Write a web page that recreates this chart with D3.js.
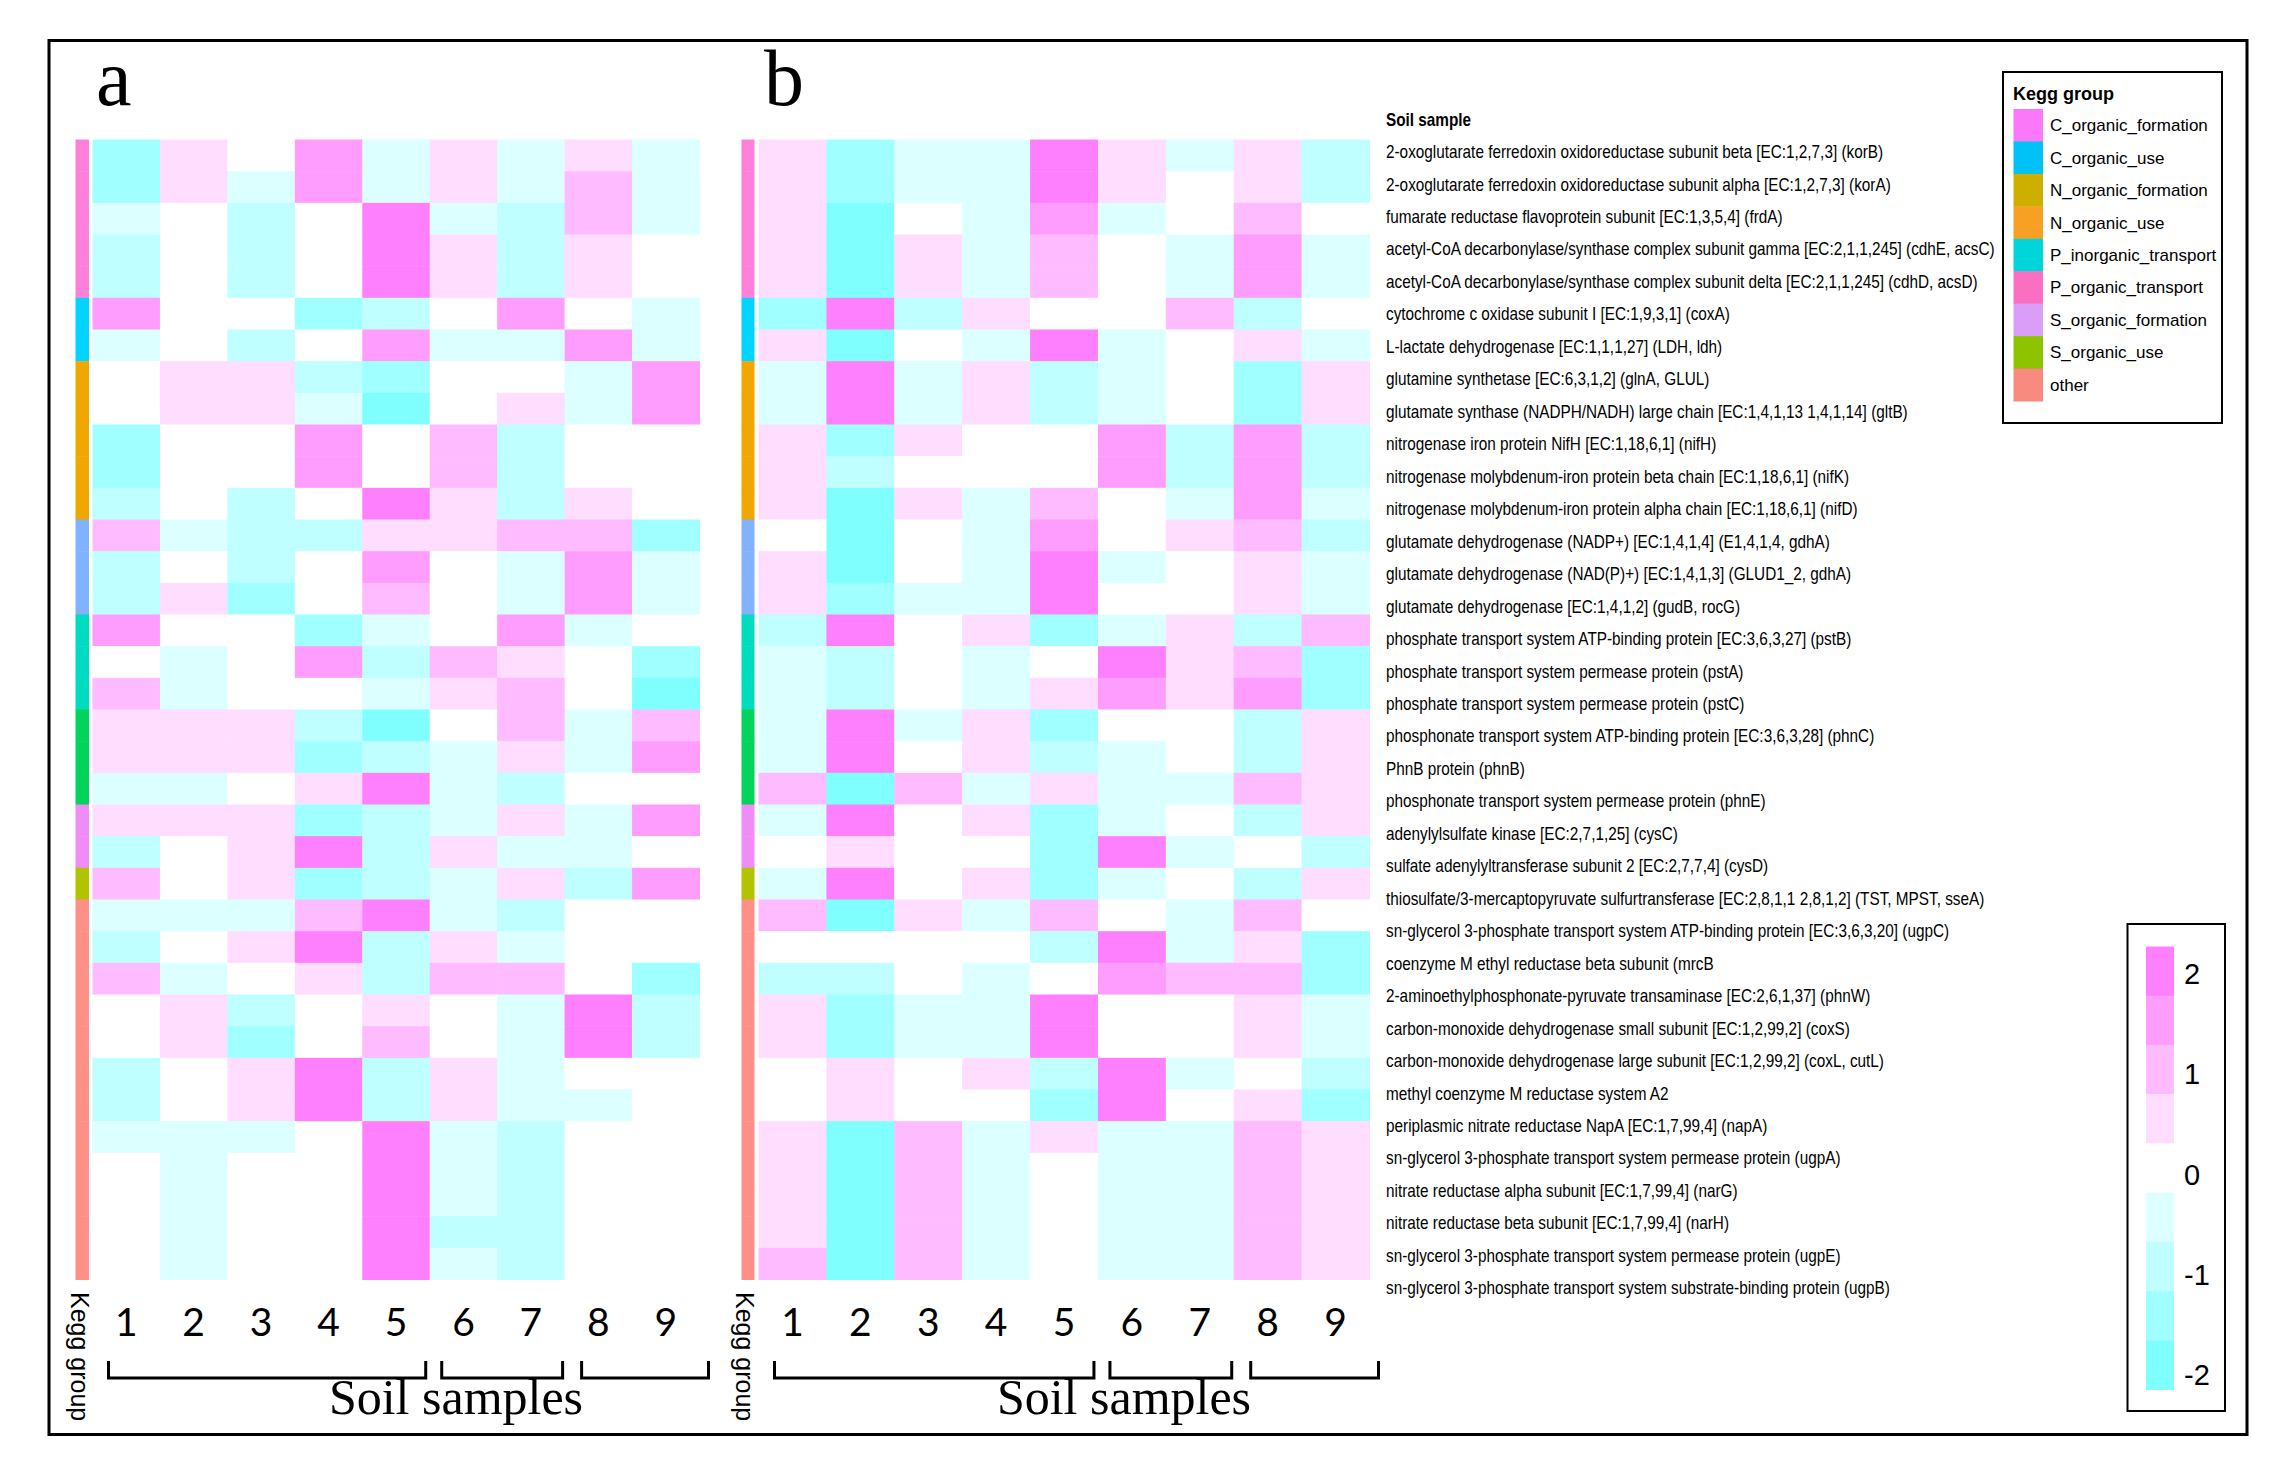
<!DOCTYPE html>
<html>
<head>
<meta charset="utf-8">
<script src="https://cdn.jsdelivr.net/npm/d3@7"></script>
<style>
  body { margin: 0; background: #fff; }
  svg { display: block; }
</style>
</head>
<body>
<svg id="chart" width="2283" height="1480"></svg>
<script>
// soil samples (columns)
const samples = ['1', '2', '3', '4', '5', '6', '7', '8', '9'];

// genes (rows), top to bottom
const genes = [
  '2-oxoglutarate ferredoxin oxidoreductase subunit beta [EC:1,2,7,3] (korB)',
  '2-oxoglutarate ferredoxin oxidoreductase subunit alpha [EC:1,2,7,3] (korA)',
  'fumarate reductase flavoprotein subunit [EC:1,3,5,4] (frdA)',
  'acetyl-CoA decarbonylase/synthase complex subunit gamma [EC:2,1,1,245] (cdhE, acsC)',
  'acetyl-CoA decarbonylase/synthase complex subunit delta [EC:2,1,1,245] (cdhD, acsD)',
  'cytochrome c oxidase subunit I [EC:1,9,3,1] (coxA)',
  'L-lactate dehydrogenase [EC:1,1,1,27] (LDH, ldh)',
  'glutamine synthetase [EC:6,3,1,2] (glnA, GLUL)',
  'glutamate synthase (NADPH/NADH) large chain [EC:1,4,1,13 1,4,1,14] (gltB)',
  'nitrogenase iron protein NifH [EC:1,18,6,1] (nifH)',
  'nitrogenase molybdenum-iron protein beta chain [EC:1,18,6,1] (nifK)',
  'nitrogenase molybdenum-iron protein alpha chain [EC:1,18,6,1] (nifD)',
  'glutamate dehydrogenase (NADP+) [EC:1,4,1,4] (E1,4,1,4, gdhA)',
  'glutamate dehydrogenase (NAD(P)+) [EC:1,4,1,3] (GLUD1_2, gdhA)',
  'glutamate dehydrogenase [EC:1,4,1,2] (gudB, rocG)',
  'phosphate transport system ATP-binding protein [EC:3,6,3,27] (pstB)',
  'phosphate transport system permease protein (pstA)',
  'phosphate transport system permease protein (pstC)',
  'phosphonate transport system ATP-binding protein [EC:3,6,3,28] (phnC)',
  'PhnB protein (phnB)',
  'phosphonate transport system permease protein (phnE)',
  'adenylylsulfate kinase [EC:2,7,1,25] (cysC)',
  'sulfate adenylyltransferase subunit 2 [EC:2,7,7,4] (cysD)',
  'thiosulfate/3-mercaptopyruvate sulfurtransferase [EC:2,8,1,1 2,8,1,2] (TST, MPST, sseA)',
  'sn-glycerol 3-phosphate transport system ATP-binding protein [EC:3,6,3,20] (ugpC)',
  'coenzyme M ethyl reductase beta subunit (mrcB',
  '2-aminoethylphosphonate-pyruvate transaminase [EC:2,6,1,37] (phnW)',
  'carbon-monoxide dehydrogenase small subunit [EC:1,2,99,2] (coxS)',
  'carbon-monoxide dehydrogenase large subunit [EC:1,2,99,2] (coxL, cutL)',
  'methyl coenzyme M reductase system A2',
  'periplasmic nitrate reductase NapA [EC:1,7,99,4] (napA)',
  'sn-glycerol 3-phosphate transport system permease protein (ugpA)',
  'nitrate reductase alpha subunit [EC:1,7,99,4] (narG)',
  'nitrate reductase beta subunit [EC:1,7,99,4] (narH)',
  'sn-glycerol 3-phosphate transport system permease protein (ugpE)',
  'sn-glycerol 3-phosphate transport system substrate-binding protein (ugpB)'
];

// Kegg groups
const keggGroups = ['C_organic_formation', 'C_organic_use', 'N_organic_formation', 'N_organic_use',
  'P_inorganic_transport', 'P_organic_transport', 'S_organic_formation', 'S_organic_use', 'other'];
const keggLegendColors = ['#FB78F8', '#00C2F6', '#CDAF00', '#F7A024', '#00D6DA', '#FB6FC2', '#DA9DF8', '#8EC300', '#F98A80'];
// the side bars of the heatmaps were coloured differently from the legend
const keggBarColors = ['#FF80DA', '#00D4FF', '#F0A800', '#80B2FF', '#00DCC0', '#00D45C', '#F08CF6', '#B2C400', '#FF9088'];
// group index of each gene row
const rowGroup = [0, 0, 0, 0, 0, 1, 1, 2, 2, 2, 2, 2, 3, 3, 3, 4, 4, 4, 5, 5, 5, 6, 6, 7,
  8, 8, 8, 8, 8, 8, 8, 8, 8, 8, 8, 8];

// scaled abundance, panel a (rows = genes, cols = samples 1..9)
const heatA = [
  [-1.5, 0.5, 0, 1.5, -0.5, 0.5, -0.5, 0.5, -0.5],
  [-1.5, 0.5, -0.5, 1.5, -0.5, 0.5, -0.5, 1, -0.5],
  [-0.5, 0, -1, 0, 2, -0.5, -1, 1, -0.5],
  [-1, 0, -1, 0, 2, 0.5, -1, 0.5, 0],
  [-1, 0, -1, 0, 2, 0.5, -1, 0.5, 0],
  [1.5, 0, 0, -1.5, -1, 0, 1.5, 0, -0.5],
  [-0.5, 0, -1, 0, 1.5, -0.5, -0.5, 1.5, -0.5],
  [0, 0.5, 0.5, -1, -1.5, 0, 0, -0.5, 1.5],
  [0, 0.5, 0.5, -0.5, -2, 0, 0.5, -0.5, 1.5],
  [-1.5, 0, 0, 1.5, 0, 1, -1, 0, 0],
  [-1.5, 0, 0, 1.5, 0, 1, -1, 0, 0],
  [-1, 0, -1, 0, 2, 0.5, -1, 0.5, 0],
  [1, -0.5, -1, -1, 0.5, 0.5, 1, 1, -1.5],
  [-1, 0, -1, 0, 1.5, 0, -0.5, 1.5, -0.5],
  [-1, 0.5, -1.5, 0, 1, 0, -0.5, 1.5, -0.5],
  [1.5, 0, 0, -1.5, -0.5, 0, 1.5, -0.5, 0],
  [0, -0.5, 0, 1.5, -1, 1, 0.5, 0, -1.5],
  [1, -0.5, 0, 0, -0.5, 0.5, 1, 0, -2],
  [0.5, 0.5, 0.5, -1, -2, 0, 1, -0.5, 1],
  [0.5, 0.5, 0.5, -1.5, -1, -0.5, 0.5, -0.5, 1.5],
  [-0.5, -0.5, 0, 0.5, 2, -0.5, -1, 0, 0],
  [0.5, 0.5, 0.5, -1.5, -1, -0.5, 0.5, -0.5, 1.5],
  [-1, 0, 0.5, 2, -1, 0.5, -0.5, -0.5, 0],
  [1, 0, 0.5, -1.5, -1, -0.5, 0.5, -1, 1.5],
  [-0.5, -0.5, -0.5, 1, 2, -0.5, -1, 0, 0],
  [-1, 0, 0.5, 2, -1, 0.5, -0.5, 0, 0],
  [1, -0.5, 0, 0.5, -1, 1, 1, 0, -1.5],
  [0, 0.5, -1, 0, 0.5, 0, -0.5, 2, -1],
  [0, 0.5, -1.5, 0, 1, 0, -0.5, 2, -1],
  [-1, 0, 0.5, 2, -1, 0.5, -0.5, 0, 0],
  [-1, 0, 0.5, 2, -1, 0.5, -0.5, -0.5, 0],
  [-0.5, -0.5, -0.5, 0, 2, -0.5, -1, 0, 0],
  [0, -0.5, 0, 0, 2, -0.5, -1, 0, 0],
  [0, -0.5, 0, 0, 2, -0.5, -1, 0, 0],
  [0, -0.5, 0, 0, 2, -1, -1, 0, 0],
  [0, -0.5, 0, 0, 2, -0.5, -1, 0, 0]
];

// scaled abundance, panel b
const heatB = [
  [0.5, -1.5, -0.5, -0.5, 2, 0.5, -0.5, 0.5, -1],
  [0.5, -1.5, -0.5, -0.5, 2, 0.5, 0, 0.5, -1],
  [0.5, -2, 0, -0.5, 1.5, -0.5, 0, 1, 0],
  [0.5, -2, 0.5, -0.5, 1, 0, -0.5, 1.5, -0.5],
  [0.5, -2, 0.5, -0.5, 1, 0, -0.5, 1.5, -0.5],
  [-1.5, 2, -1, 0.5, 0, 0, 1, -1, 0],
  [0.5, -2, 0, -0.5, 2, -0.5, 0, 0.5, -0.5],
  [-0.5, 2, -0.5, 0.5, -1, -0.5, 0, -1.5, 0.5],
  [-0.5, 2, -0.5, 0.5, -1, -0.5, 0, -1.5, 0.5],
  [0.5, -1.5, 0.5, 0, 0, 1.5, -1, 1.5, -1],
  [0.5, -1, 0, 0, 0, 1.5, -1, 1.5, -1],
  [0.5, -2, 0.5, -0.5, 1, 0, -0.5, 1.5, -0.5],
  [0, -2, 0, -0.5, 1.5, 0, 0.5, 1, -1],
  [0.5, -2, 0, -0.5, 2, -0.5, 0, 0.5, -0.5],
  [0.5, -1.5, -0.5, -0.5, 2, 0, 0, 0.5, -0.5],
  [-1, 2, 0, 0.5, -1.5, -0.5, 0.5, -1, 1],
  [-0.5, -1, 0, -0.5, 0, 2, 0.5, 1, -1.5],
  [-0.5, -1, 0, -0.5, 0.5, 1.5, 0.5, 1.5, -1.5],
  [-0.5, 2, -0.5, 0.5, -1.5, 0, 0, -1, 0.5],
  [-0.5, 2, 0, 0.5, -1, -0.5, 0, -1, 0.5],
  [1, -2, 1, -0.5, 0.5, -0.5, -0.5, 1, 0.5],
  [-0.5, 2, 0, 0.5, -1.5, -0.5, 0, -1, 0.5],
  [0, 0.5, 0, 0, -1.5, 2, -0.5, 0, -1],
  [-0.5, 2, 0, 0.5, -1.5, -0.5, 0, -1, 0.5],
  [1, -2, 0.5, -0.5, 1, 0, -0.5, 1, 0],
  [0, 0, 0, 0, -1, 2, -0.5, 0.5, -1.5],
  [-1, -1, 0, -0.5, 0, 1.5, 1, 1, -1.5],
  [0.5, -1.5, -0.5, -0.5, 2, 0, 0, 0.5, -0.5],
  [0.5, -1.5, -0.5, -0.5, 2, 0, 0, 0.5, -0.5],
  [0, 0.5, 0, 0.5, -1, 2, -0.5, 0, -1],
  [0, 0.5, 0, 0, -1.5, 2, 0, 0.5, -1.5],
  [0.5, -2, 1, -0.5, 0.5, -0.5, -0.5, 1, 0.5],
  [0.5, -2, 1, -0.5, 0, -0.5, -0.5, 1, 0.5],
  [0.5, -2, 1, -0.5, 0, -0.5, -0.5, 1, 0.5],
  [0.5, -2, 1, -0.5, 0, -0.5, -0.5, 1, 0.5],
  [1, -2, 1, -0.5, 0, -0.5, -0.5, 1, 0.5]
];

// colour steps of the scale, from -2 to 2
const colorLevels = [-2, -1.5, -1, -0.5, 0, 0.5, 1, 1.5, 2];
const levelColors = ['#80FFFF', '#A0FFFF', '#BFFFFF', '#DCFFFF', '#FFFFFF', '#FFDDFF', '#FFBBFF', '#FF9DFF', '#FF80FF'];
const scaleTicks = [2, 1, 0, -1, -2];

// sample brackets under each panel
const sampleGroups = [['1', '5'], ['6', '7'], ['8', '9']];

const svg = d3.select('#chart');
const sansFont = '"Liberation Sans", Arial, sans-serif';
const narrowFont = '"Liberation Sans Narrow", "Arial Narrow", "Liberation Sans", sans-serif';
const serifFont = '"Liberation Serif", "Times New Roman", serif';

svg.append('rect').attr('width', 2283).attr('height', 1480).attr('fill', '#fff');
// outer frame
svg.append('rect')
  .attr('x', 49).attr('y', 40.5).attr('width', 2198).attr('height', 1394)
  .attr('fill', 'none').attr('stroke', '#000').attr('stroke-width', 3);

const color = d3.scaleThreshold()
  .domain(d3.pairs(colorLevels).map(p => (p[0] + p[1]) / 2))
  .range(levelColors);

const y = d3.scaleBand().domain(genes).range([139.5, 1279.5]);

function drawPanel(data, opts) {
  const x = d3.scaleBand().domain(samples).range(opts.cells);
  const g = svg.append('g');

  // Kegg group side bar
  g.selectAll('rect.kegg')
    .data(genes)
    .enter()
    .append('rect')
    .classed('kegg', true)
    .attr('x', opts.bar[0])
    .attr('width', opts.bar[1] - opts.bar[0])
    .attr('y', d => y(d))
    .attr('height', y.bandwidth() + 0.5)
    .attr('fill', (d, i) => keggBarColors[rowGroup[i]]);

  // heatmap cells
  const cells = [];
  data.forEach((row, i) => row.forEach((v, j) => cells.push({ gene: genes[i], sample: samples[j], value: v })));
  g.selectAll('rect.cell')
    .data(cells)
    .enter()
    .append('rect')
    .classed('cell', true)
    .attr('x', d => x(d.sample))
    .attr('y', d => y(d.gene))
    .attr('width', x.bandwidth() + 0.5)
    .attr('height', y.bandwidth() + 0.5)
    .attr('fill', d => color(d.value));

  // panel letter
  g.append('text')
    .attr('x', opts.letterX).attr('y', 105)
    .style('font-family', serifFont).style('font-size', '80px')
    .text(opts.letter);

  // rotated annotation name
  g.append('text')
    .attr('transform', `translate(${(opts.bar[0] + opts.bar[1]) / 2 - 3},1292) rotate(90)`)
    .attr('dy', '0.35em')
    .style('font-family', sansFont).style('font-size', '25px')
    .text('Kegg group');

  // sample numbers
  g.selectAll('text.sample')
    .data(samples)
    .enter()
    .append('text')
    .classed('sample', true)
    .attr('x', d => x(d) + x.bandwidth() / 2)
    .attr('y', 1336)
    .attr('text-anchor', 'middle')
    .style('font-family', 'Lato, "Open Sans", sans-serif').style('font-size', '39px')
    .text(d => d);

  // brackets
  const bracketPad = [[16, -4], [12, -2], [17, 9]];
  g.selectAll('path.bracket')
    .data(sampleGroups)
    .enter()
    .append('path')
    .classed('bracket', true)
    .attr('d', (d, i) => {
      const x0 = x(d[0]) + bracketPad[i][0];
      const x1 = x(d[1]) + x.bandwidth() + bracketPad[i][1];
      return `M${x0},1361V1378H${x1}V1361`;
    })
    .attr('fill', 'none').attr('stroke', '#000').attr('stroke-width', 3);

  g.append('text')
    .attr('x', (opts.cells[0] + opts.cells[1]) / 2 + 60)
    .attr('y', 1414)
    .attr('text-anchor', 'middle')
    .style('font-family', serifFont).style('font-size', '50px')
    .text('Soil samples');
}

drawPanel(heatA, { cells: [92.5, 699.5], bar: [75.5, 89], letter: 'a', letterX: 96 });
drawPanel(heatB, { cells: [758.5, 1369.5], bar: [741.5, 754.5], letter: 'b', letterX: 764 });

// gene labels (the label column is spaced a bit wider than the rows)
const labelY = d3.scalePoint().domain(genes).range([151.8, 1288]);
const labels = svg.append('g')
  .style('font-family', narrowFont).style('font-size', '18px');
labels.append('text')
  .attr('x', 1386).attr('y', 126)
  .style('font-weight', 'bold')
  .text('Soil sample');
labels.selectAll('text.gene')
  .data(genes)
  .enter()
  .append('text')
  .classed('gene', true)
  .attr('x', 1386)
  .attr('y', d => labelY(d))
  .attr('dy', '0.35em')
  .text(d => d);

// fit the longest label to the width it has in the figure
const widest = d3.max(labels.selectAll('text.gene').nodes(), n => n.getComputedTextLength());
if (widest > 0) {
  const k = 609 / widest;
  labels.attr('transform', `translate(1386,0) scale(${k},1) translate(-1386,0)`);
}

// Kegg group legend
const legend = svg.append('g');
legend.append('rect')
  .attr('x', 2003).attr('y', 72).attr('width', 219).attr('height', 351)
  .attr('fill', 'none').attr('stroke', '#000').attr('stroke-width', 2);
legend.append('text')
  .attr('x', 2013).attr('y', 100)
  .style('font-family', sansFont).style('font-size', '18px').style('font-weight', 'bold')
  .text('Kegg group');
const ly = d3.scaleBand().domain(keggGroups).range([109, 401]);
legend.selectAll('rect.key')
  .data(keggGroups)
  .enter()
  .append('rect')
  .classed('key', true)
  .attr('x', 2013.5).attr('width', 29.5)
  .attr('y', d => ly(d)).attr('height', ly.bandwidth() + 0.5)
  .attr('fill', (d, i) => keggLegendColors[i]);
legend.selectAll('text.key')
  .data(keggGroups)
  .enter()
  .append('text')
  .classed('key', true)
  .attr('x', 2050)
  .attr('y', d => ly(d) + ly.bandwidth() / 2)
  .attr('dy', '0.35em')
  .style('font-family', sansFont).style('font-size', '17px')
  .text(d => d);

// colour scale legend
const cbar = svg.append('g');
cbar.append('rect')
  .attr('x', 2127.5).attr('y', 924).attr('width', 97.5).attr('height', 487)
  .attr('fill', 'none').attr('stroke', '#000').attr('stroke-width', 2);
const cy = d3.scaleBand().domain(colorLevels.slice().reverse()).range([946.5, 1389.5]);
cbar.selectAll('rect.step')
  .data(colorLevels.slice().reverse())
  .enter()
  .append('rect')
  .classed('step', true)
  .attr('x', 2146).attr('width', 28)
  .attr('y', d => cy(d)).attr('height', cy.bandwidth() + 0.5)
  .attr('fill', d => color(d));
const tickY = d3.scaleLinear().domain([2, -2]).range([974, 1375]);
cbar.selectAll('text.tick')
  .data(scaleTicks)
  .enter()
  .append('text')
  .classed('tick', true)
  .attr('x', 2184)
  .attr('y', d => tickY(d))
  .attr('dy', '0.35em')
  .style('font-family', sansFont).style('font-size', '29px')
  .text(d => d);
</script>
</body>
</html>
